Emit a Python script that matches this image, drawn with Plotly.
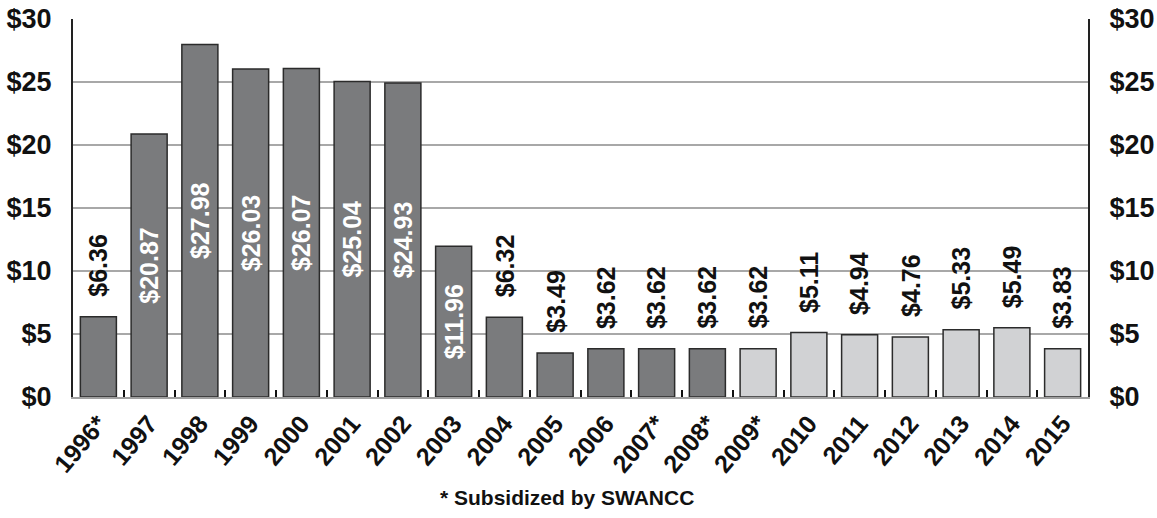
import plotly.graph_objects as go

years = ["1996*", "1997", "1998", "1999", "2000", "2001", "2002", "2003", "2004", "2005",
         "2006", "2007*", "2008*", "2009*", "2010", "2011", "2012", "2013", "2014", "2015"]
bar_heights = [6.36, 20.87, 27.98, 26.03, 26.07, 25.04, 24.93, 11.96, 6.32, 3.49,
               3.83, 3.83, 3.83, 3.83, 5.11, 4.94, 4.76, 5.33, 5.49, 3.83]
label_values = [6.36, 20.87, 27.98, 26.03, 26.07, 25.04, 24.93, 11.96, 6.32, 3.49,
                3.62, 3.62, 3.62, 3.62, 5.11, 4.94, 4.76, 5.33, 5.49, 3.83]
inside_label = [False, True, True, True, True, True, True, True, False, False,
                False, False, False, False, False, False, False, False, False, False]
light_bar = [False] * 13 + [True] * 7
footnote = "* Subsidized by SWANCC"

DARK = "#7a7b7d"
LIGHT = "#d1d2d4"
FONT = "Liberation Sans, Arial, sans-serif"

labels = ["${:.2f}".format(v) for v in label_values]
colors = [LIGHT if l else DARK for l in light_bar]
textpos = ["inside" if i else "none" for i in inside_label]

fig = go.Figure()
fig.add_trace(go.Bar(
    x=years, y=bar_heights,
    marker=dict(color=colors, line=dict(color="#2b2b2b", width=1.5)),
    text=labels, textposition=textpos, insidetextanchor="middle",
    textangle=-90, constraintext="none",
    insidetextfont=dict(family=FONT, size=25, color="white", weight="bold"),
    hoverinfo="skip", showlegend=False,
))
# invisible trace so that the right-hand axis is drawn
fig.add_trace(go.Scatter(x=years, y=bar_heights, yaxis="y2", mode="markers",
                         marker=dict(opacity=0, size=1), hoverinfo="skip",
                         showlegend=False))

for i, (h, lab, ins) in enumerate(zip(bar_heights, labels, inside_label)):
    if not ins:
        fig.add_annotation(x=i, y=h, xref="x", yref="y", text=lab, showarrow=False,
                           textangle=-90, yanchor="bottom", xanchor="center", yshift=18,
                           font=dict(family=FONT, size=25, color="#111", weight="bold"))

fig.add_annotation(x=0.487, y=-0.265, xref="paper", yref="paper", text=footnote,
                   showarrow=False, xanchor="center", yanchor="middle",
                   font=dict(family=FONT, size=21, color="#111", weight="bold"))

tickfont = dict(family=FONT, size=27, color="#111", weight="bold")
fig.update_layout(
    width=1157, height=518,
    margin=dict(l=73, r=69, t=19, b=121),
    paper_bgcolor="white", plot_bgcolor="white",
    bargap=0.29,
    xaxis=dict(type="category", categoryorder="array", categoryarray=years,
               range=[-0.5, len(years) - 0.5], automargin=False,
               ticks="inside", tickson="boundaries", ticklen=7,
               tickwidth=2, tickcolor="#111", tickangle=-50,
               tickfont=dict(family=FONT, size=25, color="#111", weight="bold"),
               showline=True, linecolor="#a0a0a0", linewidth=2, showgrid=False),
    yaxis=dict(range=[0, 30], dtick=5, tickprefix="$", showgrid=True, automargin=False,
               gridcolor="#a8a8a8", gridwidth=2, zeroline=False,
               showline=True, linecolor="#222", linewidth=2,
               ticks="outside", ticklen=14, tickcolor="rgba(0,0,0,0)",
               tickfont=tickfont),
    yaxis2=dict(range=[0, 30], dtick=5, tickprefix="$", overlaying="y", side="right",
                showgrid=False, zeroline=False, showline=True, linecolor="#222",
                linewidth=2, ticks="outside", ticklen=14, tickcolor="rgba(0,0,0,0)",
                tickfont=tickfont, anchor="x", automargin=False),
)

fig.write_html("out.html")
